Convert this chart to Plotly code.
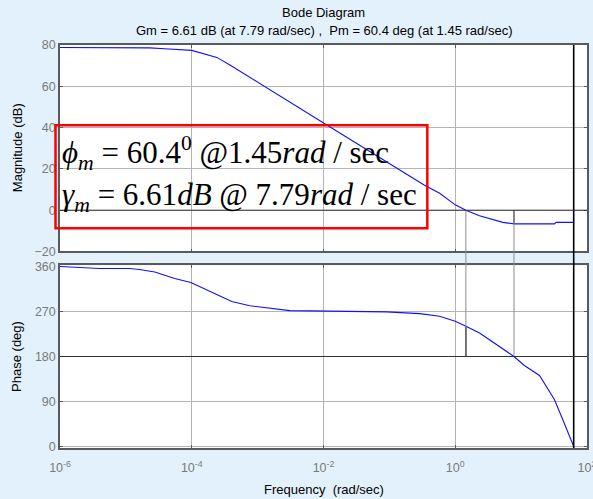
import plotly.graph_objects as go
from plotly.subplots import make_subplots

# Magnitude response (rad/sec, dB)
w_mag = [1e-6, 2.3e-5, 3.9e-5, 1.0e-4, 2.4e-4, 3.8e-4, 1.24e-2, 0.342, 0.58,
         1.0, 1.45, 2.34, 5.27, 7.79, 32.0, 34.0, 62.83]
mag_db = [78.8, 78.6, 78.2, 77.4, 74.0, 70.3, 40.4, 12.1, 8.2,
          2.6, 0.0, -2.7, -5.9, -6.61, -6.6, -5.9, -5.9]

# Phase response (rad/sec, deg)
w_ph = [1e-6, 4e-6, 1.15e-5, 1.6e-5, 2.75e-5, 5.5e-5, 9.7e-5, 1.88e-4, 4.05e-4,
        7.6e-4, 1.82e-3, 3.1e-3, 0.09, 0.288, 0.578, 1.0, 1.45, 2.34, 7.79,
        11.2, 19.0, 25.1, 32.0, 42.8, 62.83]
phase_deg = [360, 356, 356, 354, 349, 336, 328, 310, 290,
             281.5, 275.8, 271.8, 269.2, 265.8, 260.4, 250.4, 240.4, 227, 180,
             162, 142, 116, 94, 54, 0]

# Stability margins
gm_db, gm_freq = 6.61, 7.79
pm_deg, pm_freq = 60.4, 1.45
nyquist_freq = 62.83

x_tickvals = [1e-6, 1e-4, 1e-2, 1e0, 1e2]
x_ticktext = ["10<sup>-6</sup>", "10<sup>-4</sup>", "10<sup>-2</sup>",
              "10<sup>0</sup>", "10<sup>2</sup>"]
mag_ticks = [-20, 0, 20, 40, 60, 80]
phase_ticks = [0, 90, 180, 270, 360]

mag_range = [-20, 80]
phase_range = [-3, 362]
mag_domain = [0.4876, 1.0]
phase_domain = [0.0, 0.4529]

bg = "#e2f1fb"
grid = "#b4b4b4"
sans = "Liberation Sans, Arial, sans-serif"
tick_font = dict(family=sans, size=12.5, color="#7a7a7a")
label_font = dict(family=sans, size=13, color="#000000")


def to_paper(v, rng, dom):
    return dom[0] + (v - rng[0]) / (rng[1] - rng[0]) * (dom[1] - dom[0])


fig = make_subplots(rows=2, cols=1, shared_xaxes=False, vertical_spacing=0.03)

# margin guide lines (gray), running from 0 dB down through the gap to 180 deg
y_mag0 = to_paper(0, mag_range, mag_domain)
y_ph180 = to_paper(180, phase_range, phase_domain)
for f in (pm_freq, gm_freq):
    fig.add_shape(type="line", xref="x", yref="paper", x0=f, x1=f,
                  y0=y_mag0, y1=y_ph180, line=dict(color="#8c8c8c", width=1),
                  layer="above")

# Nyquist frequency line spanning both panels
fig.add_shape(type="line", xref="x", yref="paper", x0=nyquist_freq, x1=nyquist_freq,
              y0=0, y1=1, line=dict(color="#000000", width=1.6), layer="above")

# margin markers (black)
fig.add_trace(go.Scatter(x=[gm_freq, gm_freq], y=[0, -gm_db], mode="lines",
                         line=dict(color="#000000", width=1),
                         hoverinfo="skip", showlegend=False), row=1, col=1)
fig.add_trace(go.Scatter(x=[pm_freq, pm_freq], y=[180, 180 + pm_deg], mode="lines",
                         line=dict(color="#000000", width=1.3),
                         hoverinfo="skip", showlegend=False), row=2, col=1)

# response curves
fig.add_trace(go.Scatter(x=w_mag, y=mag_db, mode="lines",
                         line=dict(color="#1010ff", width=1.1),
                         showlegend=False), row=1, col=1)
fig.add_trace(go.Scatter(x=w_ph, y=phase_deg, mode="lines",
                         line=dict(color="#1010ff", width=1.1),
                         showlegend=False), row=2, col=1)

axis_common = dict(showline=True, linecolor="#5a5a5a", linewidth=1.5, mirror="ticks",
                   ticks="inside", ticklen=3, tickcolor="#5a5a5a", automargin=False,
                   gridcolor=grid, gridwidth=1, zeroline=False, tickfont=tick_font)

fig.update_xaxes(type="log", range=[-6, 2], tickvals=x_tickvals, ticktext=x_ticktext,
                 showgrid=True, **axis_common)
fig.update_xaxes(showticklabels=False, row=1, col=1)
fig.update_xaxes(showticklabels=True, ticklabelstandoff=7, ticklabeloverflow="allow",
                 row=2, col=1)

fig.update_yaxes(range=mag_range, tickvals=mag_ticks, row=1, col=1, **axis_common)
fig.update_yaxes(range=phase_range, tickvals=phase_ticks, row=2, col=1, **axis_common)

fig.update_layout(
    xaxis=dict(domain=[0, 1]), xaxis2=dict(domain=[0, 1]),
    yaxis=dict(domain=mag_domain), yaxis2=dict(domain=phase_domain),
)

# emphasised reference lines: 0 dB and 180 deg
fig.add_hline(y=0, line=dict(color="#303030", width=1), row=1, col=1)
fig.add_hline(y=180, line=dict(color="#303030", width=1), row=2, col=1)

# margin summary box
fig.add_shape(type="rect", xref="paper", yref="paper",
              x0=-0.0085, x1=0.697, y0=0.545, y1=0.801,
              line=dict(color="#ff0000", width=2.5), fillcolor="rgba(0,0,0,0)")

math_font = dict(family="Liberation Serif, Times New Roman, serif", size=31, color="#000000")
fig.add_annotation(xref="paper", yref="paper", x=0.0, y=0.733, xanchor="left", yanchor="middle",
                   text="<i>ϕ</i><sub><i>m</i></sub> = 60.4<sup>0</sup> @1.45<i>rad</i> / sec",
                   showarrow=False, font=math_font)
fig.add_annotation(xref="paper", yref="paper", x=0.0, y=0.623, xanchor="left", yanchor="middle",
                   text="<i>γ</i><sub><i>m</i></sub> = 6.61<i>dB</i> @ 7.79<i>rad</i> / sec",
                   showarrow=False, font=math_font)

# titles and axis labels
fig.add_annotation(xref="paper", yref="paper", x=0.5, y=1.0, yshift=33, xanchor="center",
                   yanchor="middle", text="Bode Diagram", showarrow=False, font=label_font)
fig.add_annotation(xref="paper", yref="paper", x=0.5, y=1.0, yshift=15, xanchor="center",
                   yanchor="middle",
                   text="Gm = 6.61 dB (at 7.79 rad/sec) ,  Pm = 60.4 deg (at 1.45 rad/sec)",
                   showarrow=False, font=label_font)
fig.add_annotation(xref="paper", yref="paper", x=0.5, y=0.0, yshift=-41, xanchor="center",
                   yanchor="middle", text="Frequency  (rad/sec)", showarrow=False, font=label_font)
fig.add_annotation(xref="paper", yref="paper", x=0.0, xshift=-43, y=0.744, xanchor="center",
                   yanchor="middle", text="Magnitude (dB)", textangle=-90, showarrow=False,
                   font=label_font)
fig.add_annotation(xref="paper", yref="paper", x=0.0, xshift=-43, y=0.226, xanchor="center",
                   yanchor="middle", text="Phase (deg)", textangle=-90, showarrow=False,
                   font=label_font)

fig.update_layout(
    width=593, height=499,
    margin=dict(l=59.5, r=6, t=45, b=51, autoexpand=False),
    paper_bgcolor=bg, plot_bgcolor="#ffffff",
    showlegend=False,
)

fig.write_html("out.html")
